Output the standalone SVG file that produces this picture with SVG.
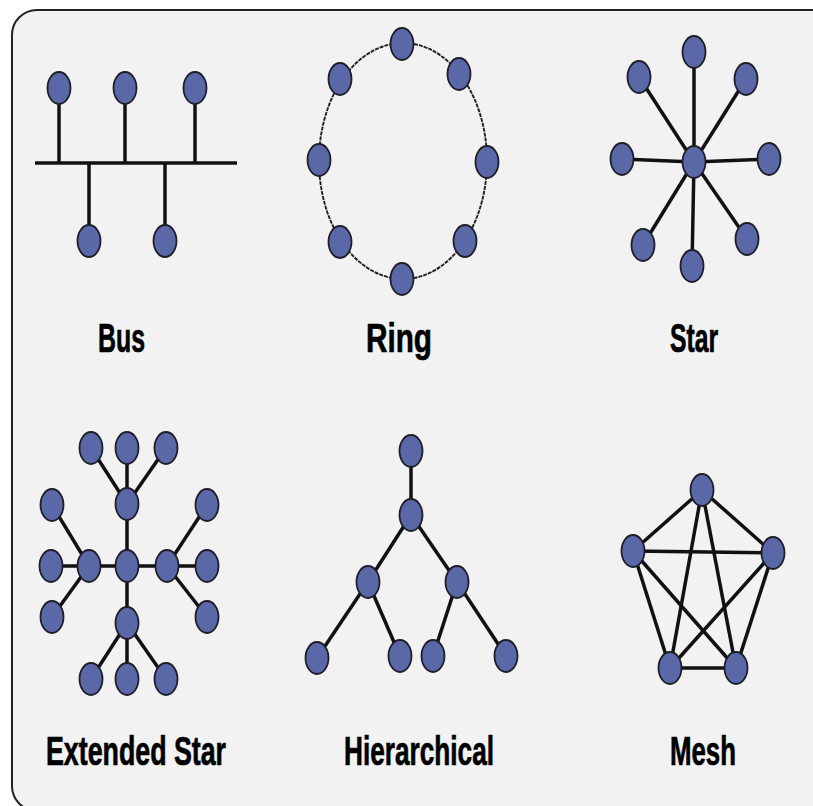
<svg xmlns="http://www.w3.org/2000/svg" width="813" height="806" viewBox="0 0 813 806">
<style>
.n{fill:#5b68a8;stroke:#1e1e28;stroke-width:1.8}
.l{stroke:#111;stroke-width:3.5;fill:none;stroke-linecap:butt}
.t{font-family:"Liberation Sans",Arial,sans-serif;font-weight:bold;font-size:41px;fill:#000;stroke:#000;stroke-width:0.7}
</style>
<defs>
<ellipse id="nd" cx="0" cy="0" rx="11.5" ry="16"/>
</defs>
<rect x="0" y="0" width="813" height="806" fill="#ffffff"/>
<rect id="frame" x="12" y="10" width="826" height="801" rx="25" ry="25" fill="#f2f2f2" stroke="#222" stroke-width="2"/>

<g id="connectors">
  <!-- Bus -->
  <line class="l" x1="35" y1="163" x2="237" y2="163" stroke-width="4.5"/>
  <line class="l" x1="59" y1="88" x2="59" y2="163"/>
  <line class="l" x1="125" y1="88" x2="125" y2="163"/>
  <line class="l" x1="195" y1="88" x2="195" y2="163"/>
  <line class="l" x1="89" y1="163" x2="89" y2="241"/>
  <line class="l" x1="165" y1="163" x2="165" y2="241"/>
  <!-- Ring -->
  <ellipse cx="403" cy="161" rx="84" ry="118" fill="none" stroke="#222" stroke-width="1.9" stroke-dasharray="4 1"/>
  <!-- Star -->
  <line class="l" x1="694" y1="162" x2="694" y2="52"/>
  <line class="l" x1="694" y1="162" x2="639" y2="77"/>
  <line class="l" x1="694" y1="162" x2="746" y2="79"/>
  <line class="l" x1="694" y1="162" x2="622" y2="159"/>
  <line class="l" x1="694" y1="162" x2="769" y2="159"/>
  <line class="l" x1="694" y1="162" x2="643" y2="245"/>
  <line class="l" x1="694" y1="162" x2="692" y2="266"/>
  <line class="l" x1="694" y1="162" x2="747" y2="239"/>
  <!-- Extended Star -->
  <line class="l" x1="127" y1="504" x2="91" y2="448"/>
  <line class="l" x1="127" y1="504" x2="127" y2="448"/>
  <line class="l" x1="127" y1="504" x2="166" y2="448"/>
  <line class="l" x1="127" y1="504" x2="127" y2="566"/>
  <line class="l" x1="51" y1="566" x2="207" y2="566"/>
  <line class="l" x1="127" y1="566" x2="127" y2="623"/>
  <line class="l" x1="89" y1="566" x2="52" y2="505"/>
  <line class="l" x1="89" y1="566" x2="52" y2="617"/>
  <line class="l" x1="167" y1="566" x2="207" y2="505"/>
  <line class="l" x1="167" y1="566" x2="207" y2="617"/>
  <line class="l" x1="127" y1="623" x2="91" y2="679"/>
  <line class="l" x1="127" y1="623" x2="127" y2="679"/>
  <line class="l" x1="127" y1="623" x2="166" y2="679"/>
  <!-- Hierarchical -->
  <line class="l" x1="411" y1="451" x2="411" y2="515"/>
  <line class="l" x1="411" y1="515" x2="368" y2="582"/>
  <line class="l" x1="411" y1="515" x2="457" y2="582"/>
  <line class="l" x1="368" y1="582" x2="317" y2="658"/>
  <line class="l" x1="368" y1="582" x2="400" y2="656"/>
  <line class="l" x1="457" y1="582" x2="433" y2="656"/>
  <line class="l" x1="457" y1="582" x2="506" y2="656"/>
  <!-- Mesh -->
  <line class="l" x1="702" y1="490" x2="633" y2="551"/>
  <line class="l" x1="702" y1="490" x2="773" y2="553"/>
  <line class="l" x1="702" y1="490" x2="670" y2="668"/>
  <line class="l" x1="702" y1="490" x2="736" y2="668"/>
  <line class="l" x1="633" y1="551" x2="773" y2="553" stroke-width="4.5"/>
  <line class="l" x1="633" y1="551" x2="670" y2="668"/>
  <line class="l" x1="633" y1="551" x2="736" y2="668"/>
  <line class="l" x1="773" y1="553" x2="670" y2="668"/>
  <line class="l" x1="773" y1="553" x2="736" y2="668"/>
  <line class="l" x1="670" y1="668" x2="736" y2="668" stroke-width="4.5"/>
</g>

<g id="bus">
  <use href="#nd" class="n" x="59" y="88"/>
  <use href="#nd" class="n" x="125" y="88"/>
  <use href="#nd" class="n" x="195" y="88"/>
  <use href="#nd" class="n" x="89" y="241"/>
  <use href="#nd" class="n" x="165" y="241"/>
  <text class="t" x="98" y="352" textLength="47" lengthAdjust="spacingAndGlyphs">Bus</text>
</g>
<g id="ring">
  <use href="#nd" class="n" x="402" y="44"/>
  <use href="#nd" class="n" x="340" y="79"/>
  <use href="#nd" class="n" x="459" y="74"/>
  <use href="#nd" class="n" x="319" y="160"/>
  <use href="#nd" class="n" x="487" y="162"/>
  <use href="#nd" class="n" x="340" y="242"/>
  <use href="#nd" class="n" x="465" y="241"/>
  <use href="#nd" class="n" x="402" y="279"/>
  <text class="t" x="366" y="352" textLength="66" lengthAdjust="spacingAndGlyphs">Ring</text>
</g>
<g id="star">
  <use href="#nd" class="n" x="694" y="52"/>
  <use href="#nd" class="n" x="639" y="77"/>
  <use href="#nd" class="n" x="746" y="79"/>
  <use href="#nd" class="n" x="622" y="159"/>
  <use href="#nd" class="n" x="694" y="162"/>
  <use href="#nd" class="n" x="769" y="159"/>
  <use href="#nd" class="n" x="643" y="245"/>
  <use href="#nd" class="n" x="692" y="266"/>
  <use href="#nd" class="n" x="747" y="239"/>
  <text class="t" x="670" y="352" textLength="48" lengthAdjust="spacingAndGlyphs">Star</text>
</g>
<g id="extended-star">
  <use href="#nd" class="n" x="91" y="448"/>
  <use href="#nd" class="n" x="127" y="448"/>
  <use href="#nd" class="n" x="166" y="448"/>
  <use href="#nd" class="n" x="127" y="504"/>
  <use href="#nd" class="n" x="52" y="505"/>
  <use href="#nd" class="n" x="207" y="505"/>
  <use href="#nd" class="n" x="51" y="566"/>
  <use href="#nd" class="n" x="89" y="566"/>
  <use href="#nd" class="n" x="127" y="566"/>
  <use href="#nd" class="n" x="167" y="566"/>
  <use href="#nd" class="n" x="207" y="566"/>
  <use href="#nd" class="n" x="52" y="617"/>
  <use href="#nd" class="n" x="207" y="617"/>
  <use href="#nd" class="n" x="127" y="623"/>
  <use href="#nd" class="n" x="91" y="679"/>
  <use href="#nd" class="n" x="127" y="679"/>
  <use href="#nd" class="n" x="166" y="679"/>
  <text class="t" x="46" y="765" textLength="180" lengthAdjust="spacingAndGlyphs">Extended Star</text>
</g>
<g id="hierarchical">
  <use href="#nd" class="n" x="411" y="451"/>
  <use href="#nd" class="n" x="411" y="515"/>
  <use href="#nd" class="n" x="368" y="582"/>
  <use href="#nd" class="n" x="457" y="582"/>
  <use href="#nd" class="n" x="317" y="658"/>
  <use href="#nd" class="n" x="400" y="656"/>
  <use href="#nd" class="n" x="433" y="656"/>
  <use href="#nd" class="n" x="506" y="656"/>
  <text class="t" x="344" y="765" textLength="150" lengthAdjust="spacingAndGlyphs">Hierarchical</text>
</g>
<g id="mesh">
  <use href="#nd" class="n" x="702" y="490"/>
  <use href="#nd" class="n" x="633" y="551"/>
  <use href="#nd" class="n" x="773" y="553"/>
  <use href="#nd" class="n" x="670" y="668"/>
  <use href="#nd" class="n" x="736" y="668"/>
  <text class="t" x="670" y="765" textLength="66" lengthAdjust="spacingAndGlyphs">Mesh</text>
</g>
</svg>
